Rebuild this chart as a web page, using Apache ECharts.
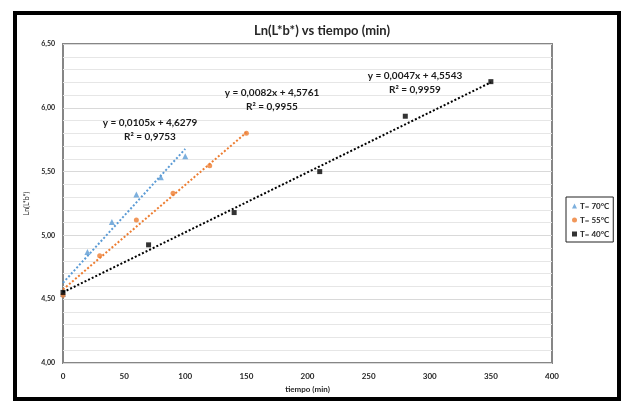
<!DOCTYPE html>
<html><head><meta charset="utf-8">
<script src="https://cdn.jsdelivr.net/npm/echarts@6/dist/echarts.min.js"></script>
<style>html,body{margin:0;padding:0;background:#fff}#c{width:622px;height:401px}</style>
</head><body><div id="c"></div>
<script>
const seriesNames = ['T= 70°C', 'T= 55°C', 'T= 40°C'];
const x70 = [0, 20, 40, 60, 80, 100];
const y70 = [4.54, 4.87, 5.105, 5.32, 5.455, 5.62];
const x55 = [0, 30, 60, 90, 120, 150];
const y55 = [4.53, 4.84, 5.12, 5.33, 5.545, 5.80];
const x40 = [0, 70, 140, 210, 280, 350];
const y40 = [4.553, 4.926, 5.179, 5.50, 5.934, 6.205];
const slopes = [0.0105, 0.0082, 0.0047];
const intercepts = [4.6279, 4.5761, 4.5543];
const r2 = ['0,9753', '0,9955', '0,9959'];
const trendRanges = [[0, 100], [0, 150], [0, 350]];
const xTicks = [0, 50, 100, 150, 200, 250, 300, 350, 400];
const yTicks = [4.0, 4.5, 5.0, 5.5, 6.0, 6.5];

const colors = ['#5b9bd5', '#ed7d31', '#000000'];
const symbols = ['triangle', 'circle', 'rect'];
const xs = [x70, x55, x40], ys = [y70, y55, y40];
const fmtNum = v => v.toFixed(4).replace('.', ',');
const FONT = 'Lato, "Open Sans", sans-serif';

const series = [];
for (let i = 0; i < 3; i++) {
  series.push({
    name: seriesNames[i], type: 'scatter', symbol: symbols[i], symbolSize: i === 0 ? 6 : 5,
    itemStyle: { color: colors[i] }, z: 5,
    data: xs[i].map((x, k) => [x, ys[i][k]])
  });
  const [a, b] = trendRanges[i];
  series.push({
    name: 'trend' + i, type: 'line', symbol: 'none', silent: true, z: 3,
    lineStyle: { color: colors[i], width: 2, type: [2, 2] },
    data: [[a, intercepts[i] + slopes[i] * a], [b, intercepts[i] + slopes[i] * b]]
  });
}

const eqPos = [[150, 123], [272, 93], [415, 76]];
const graphics = [
  { type: 'rect', shape: { x: 15, y: 13, width: 604, height: 386 }, style: { fill: null, stroke: '#000', lineWidth: 4 }, z: 100 }
];
for (let i = 0; i < 3; i++) {
  graphics.push({
    type: 'text', x: eqPos[i][0], y: eqPos[i][1] - 7, z: 50,
    style: { text: 'y = ' + fmtNum(slopes[i]) + 'x + ' + fmtNum(intercepts[i]) + '\nR² = ' + r2[i],
      fill: '#1a1a1a', font: 'bold 10px ' + FONT, align: 'center', verticalAlign: 'top', lineHeight: 14 }
  });
}

const chart = echarts.init(document.getElementById('c'), null, { renderer: 'canvas' });
chart.setOption({
  backgroundColor: '#fff',
  animation: false,
  color: colors,
  title: { text: 'Ln(L*b*) vs tiempo (min)', left: 317, textAlign: 'center', top: 19,
    textStyle: { fontFamily: FONT, fontSize: 13, fontWeight: 'bold', color: '#262626' } },
  grid: { left: 63, top: 44, right: 70, bottom: 38, show: true, borderColor: '#868686', borderWidth: 2, backgroundColor: 'transparent' },
  legend: {
    data: seriesNames, orient: 'vertical', left: 566, top: 197,
    borderColor: '#222', borderWidth: 1, padding: [5, 4, 4, 6], itemGap: 6,
    itemWidth: 5, itemHeight: 5,
    textStyle: { fontFamily: FONT, fontSize: 8, fontWeight: 'bold', color: '#262626', padding: [0, 0, 0, -2] }
  },
  xAxis: {
    type: 'value', min: xTicks[0], max: xTicks[xTicks.length - 1], interval: xTicks[1] - xTicks[0],
    name: 'tiempo (min)', nameLocation: 'middle', nameGap: 22,
    nameTextStyle: { fontFamily: FONT, fontSize: 8, fontWeight: 'bold', color: '#262626' },
    axisLine: { show: false }, axisTick: { show: false }, splitLine: { show: false },
    minorSplitLine: { show: false },
    axisLabel: { fontFamily: FONT, fontSize: 8, fontWeight: 'bold', color: '#262626', margin: 9 }
  },
  yAxis: {
    type: 'value', min: yTicks[0], max: yTicks[yTicks.length - 1], interval: yTicks[1] - yTicks[0],
    name: 'Ln(L*b*)', nameLocation: 'middle', nameGap: 30,
    nameTextStyle: { fontFamily: FONT, fontSize: 7, color: '#262626' },
    axisLine: { show: false }, axisTick: { show: false },
    splitLine: { show: true, lineStyle: { color: '#d9d9d9', width: 1 } },
    minorTick: { show: false, splitNumber: 5 },
    minorSplitLine: { show: true, lineStyle: { color: '#e6e6e6', width: 1 } },
    axisLabel: { fontFamily: FONT, fontSize: 7, fontWeight: 'bold', color: '#262626', margin: 8,
      formatter: v => v.toFixed(2).replace('.', ',') }
  },
  graphic: graphics,
  series: series
});
</script></body></html>
